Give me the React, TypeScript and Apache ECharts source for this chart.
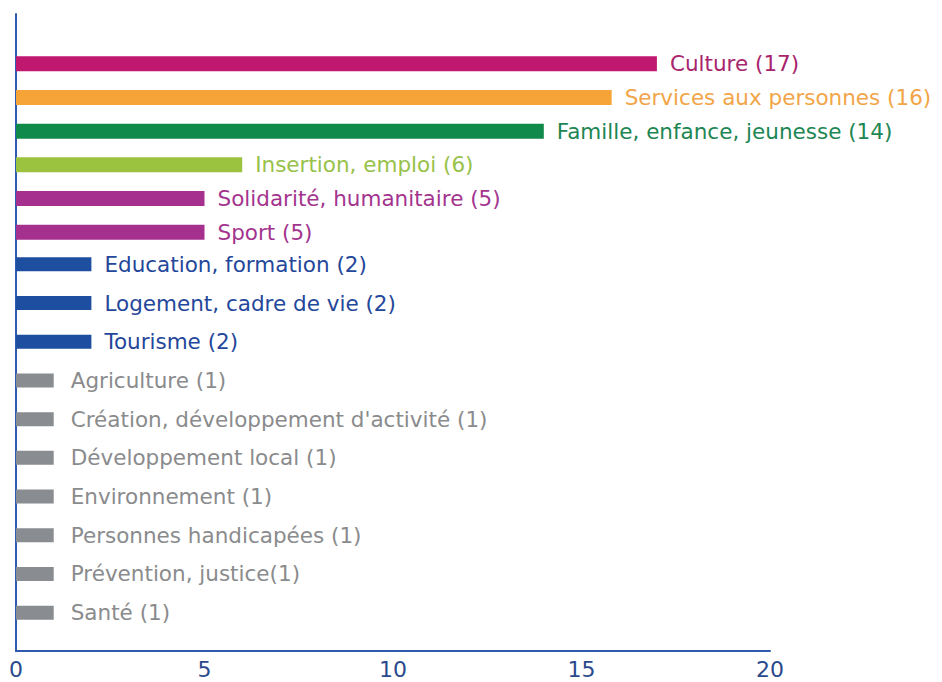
import React, { useEffect, useRef } from "react";
import * as echarts from "echarts";

const categories = [
  "Culture",
  "Services aux personnes",
  "Famille, enfance, jeunesse",
  "Insertion, emploi",
  "Solidarité, humanitaire",
  "Sport",
  "Education, formation",
  "Logement, cadre de vie",
  "Tourisme",
  "Agriculture",
  "Création, développement d'activité",
  "Développement local",
  "Environnement",
  "Personnes handicapées",
  "Prévention, justice",
  "Santé",
];
const labelTexts = [
  "Culture (17)",
  "Services aux personnes (16)",
  "Famille, enfance, jeunesse (14)",
  "Insertion, emploi (6)",
  "Solidarité, humanitaire (5)",
  "Sport (5)",
  "Education, formation (2)",
  "Logement, cadre de vie (2)",
  "Tourisme (2)",
  "Agriculture (1)",
  "Création, développement d'activité (1)",
  "Développement local (1)",
  "Environnement (1)",
  "Personnes handicapées (1)",
  "Prévention, justice(1)",
  "Santé (1)",
];
const values = [17, 15.8, 14, 6, 5, 5, 2, 2, 2, 1, 1, 1, 1, 1, 1, 1];
const barColors = [
  "#C0186F", "#F6A437", "#0F8A4A", "#9CC33F", "#A6308E", "#A6308E",
  "#1E4E9F", "#1E4E9F", "#1E4E9F",
  "#898C90", "#898C90", "#898C90", "#898C90", "#898C90", "#898C90", "#898C90",
];
const labelColors = [
  "#A8246C", "#F2A548", "#1D8653", "#98C14A", "#A3348E", "#A3348E",
  "#24479A", "#24479A", "#24479A",
  "#8A8B8D", "#8A8B8D", "#8A8B8D", "#8A8B8D", "#8A8B8D", "#8A8B8D", "#8A8B8D",
];
const xTicks = { min: 0, max: 20, interval: 5 };
// the original packs the first six rows a little tighter than the rest
const groupSplit = 6;

export default function App() {
  const ref = useRef<HTMLDivElement>(null);
  useEffect(() => {
    if (!ref.current) return;
    const chart = echarts.init(ref.current, undefined, { renderer: "svg" });
    const axisBlue = "#2F5AAE";
    const font = "DejaVu Sans";
    const makeData = (from: number, to: number) =>
      values.slice(from, to).map((v, j) => {
        const i = from + j;
        return {
          value: v,
          itemStyle: { color: barColors[i] },
          label: {
            show: true,
            position: "right",
            distance: i >= 9 ? 17 : 13,
            formatter: labelTexts[i],
            color: labelColors[i],
            fontSize: 21.5,
            fontFamily: font,
          },
        };
      });
    chart.setOption({
      animation: false,
      backgroundColor: "#ffffff",
      textStyle: { fontFamily: font },
      grid: [
        { left: 16, top: 14, width: 754, height: 637 },
        { left: 16, top: 47, width: 754, height: 202 },
        { left: 16, top: 245, width: 754, height: 387 },
      ],
      xAxis: [
        {
          gridIndex: 0,
          type: "value",
          min: xTicks.min,
          max: xTicks.max,
          interval: xTicks.interval,
          axisLine: { show: true, lineStyle: { color: axisBlue, width: 2 } },
          axisTick: { show: false },
          splitLine: { show: false },
          axisLabel: { color: "#2B4A8E", fontSize: 22, margin: 7, fontFamily: font },
        },
        { gridIndex: 1, type: "value", min: xTicks.min, max: xTicks.max, show: false },
        { gridIndex: 2, type: "value", min: xTicks.min, max: xTicks.max, show: false },
      ],
      yAxis: [
        {
          gridIndex: 0,
          type: "value",
          min: 0,
          max: 1,
          axisLine: { show: true, lineStyle: { color: axisBlue, width: 2 } },
          axisTick: { show: false },
          axisLabel: { show: false },
          splitLine: { show: false },
        },
        {
          gridIndex: 1,
          type: "category",
          inverse: true,
          data: categories.slice(0, groupSplit),
          show: false,
        },
        {
          gridIndex: 2,
          type: "category",
          inverse: true,
          data: categories.slice(groupSplit),
          show: false,
        },
      ],
      series: [
        {
          type: "bar",
          xAxisIndex: 1,
          yAxisIndex: 1,
          barWidth: 15,
          data: makeData(0, groupSplit),
        },
        {
          type: "bar",
          xAxisIndex: 2,
          yAxisIndex: 2,
          barWidth: 14,
          data: makeData(groupSplit, values.length),
        },
      ],
    });
    return () => chart.dispose();
  }, []);
  return (
    <div
      ref={ref}
      style={{ position: "fixed", left: 0, top: 0, width: 942, height: 682 }}
    />
  );
}
